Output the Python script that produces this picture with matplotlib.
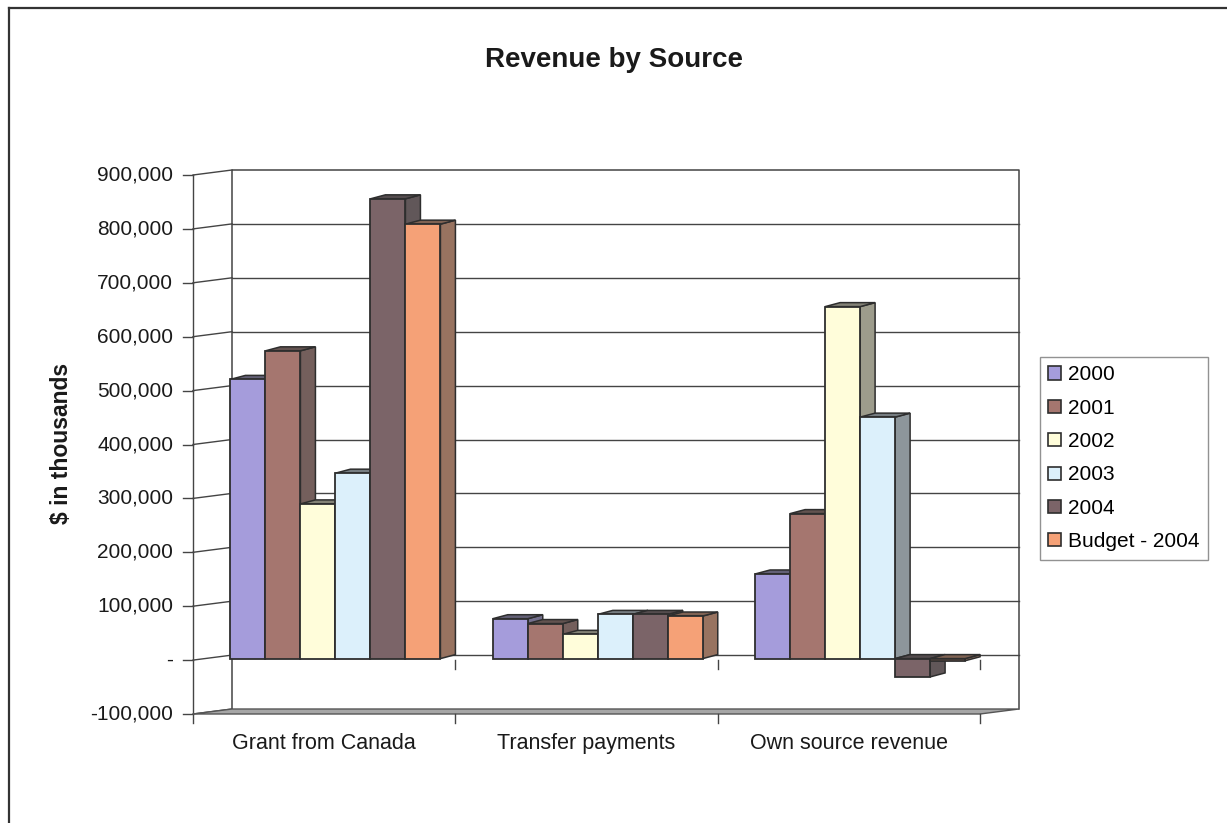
import matplotlib
matplotlib.use("Agg")
import matplotlib.pyplot as plt
from matplotlib.patches import Polygon, Patch
from matplotlib.lines import Line2D
from matplotlib.colors import to_rgb

plt.rcParams['font.family'] = ['Liberation Sans', 'DejaVu Sans']

# ---- data -------------------------------------------------------------
categories = ["Grant from Canada", "Transfer payments", "Own source revenue"]
series_names = ["2000", "2001", "2002", "2003", "2004", "Budget - 2004"]
rev_2000 = [518000, 74000, 157000]
rev_2001 = [571000, 65000, 269000]
rev_2002 = [287000, 45000, 653000]
rev_2003 = [344000, 82000, 448000]
rev_2004 = [853000, 82000, -34000]
rev_budget_2004 = [806000, 79000, -4000]
series_values = [rev_2000, rev_2001, rev_2002, rev_2003, rev_2004, rev_budget_2004]

series_colors = ["#A59CDB", "#A5766F", "#FFFDDA", "#DCF0FB", "#7B6468", "#F5A177"]

y_ticks = [-100000, 0, 100000, 200000, 300000, 400000, 500000,
           600000, 700000, 800000, 900000]
y_tick_labels = ["-100,000", "-", "100,000", "200,000", "300,000", "400,000",
                 "500,000", "600,000", "700,000", "800,000", "900,000"]

# ---- figure / back wall -------------------------------------------------
W, H = 1227, 823
fig = plt.figure(figsize=(W / 100, H / 100), dpi=100)
fig.patch.set_facecolor("white")

L, R, T, B = 232, 1019, 170, 709          # back wall box (pixels)
ax = fig.add_axes([L / W, 1 - B / H, (R - L) / W, (B - T) / H])
ymin, ymax = y_ticks[0], y_ticks[-1]
ncat = len(categories)
ax.set_xlim(0, ncat)
ax.set_ylim(ymin, ymax)
ax.axis("off")

sx = ncat / (R - L)                 # data units per pixel, horizontal
sy = (ymax - ymin) / (B - T)        # data units per pixel, vertical

line_c = "#444444"
edge_c = "#2e2e2e"

# front plane of the walls is shifted left and down
fdx, fdy = -39 * sx, -5 * sy

# back wall outline and gridlines
ax.plot([0, 0, ncat, ncat], [ymin, ymax, ymax, ymin], color=line_c, lw=1.1,
        clip_on=False, zorder=1)
for v in y_ticks[1:-1]:
    ax.plot([0, ncat], [v, v], color=line_c, lw=1.0, clip_on=False, zorder=1)

# side wall: slanted gridlines, front edge, tick marks and labels
for v, lab in zip(y_ticks, y_tick_labels):
    ax.plot([fdx, 0], [v + fdy, v], color=line_c, lw=1.0, clip_on=False, zorder=1)
    ax.plot([fdx - 10 * sx, fdx], [v + fdy, v + fdy], color=line_c, lw=1.0,
            clip_on=False, zorder=1)
    ax.text(fdx - 20 * sx, v + fdy, lab, ha="right", va="center", fontsize=15,
            color="#1a1a1a")
ax.plot([fdx, fdx], [ymax + fdy, ymin + fdy - 9 * sy], color=line_c, lw=1.0,
        clip_on=False, zorder=1)

# floor slab
floor = Polygon([(0, ymin), (ncat, ymin), (ncat + fdx, ymin + fdy),
                 (fdx, ymin + fdy)], closed=True, facecolor="#a6a6a6",
                edgecolor="#555555", lw=1.0, clip_on=False, zorder=2)
ax.add_patch(floor)

# category ticks at zero level and at the floor edge
for i in range(1, ncat + 1):
    ax.plot([i + fdx, i + fdx], [fdy, fdy - 9 * sy], color=line_c, lw=1.0,
            clip_on=False, zorder=1)
    ax.plot([i + fdx, i + fdx], [ymin + fdy, ymin + fdy - 9 * sy], color=line_c,
            lw=1.0, clip_on=False, zorder=2)

for i, cat in enumerate(categories):
    ax.text(i + 0.5 + fdx, ymin + fdy - 19 * sy, cat, ha="center", va="top",
            fontsize=15.5, color="#1a1a1a")

# ---- 3-D columns ----------------------------------------------------------
bar_w = 35 * sx
bar_x0 = -0.006
bar_dy = -3.5 * sy               # column front faces sit slightly in front
ddx, ddy = 15 * sx, 4 * sy       # column depth


def shade(c, k, g):
    r = to_rgb(c)
    return tuple(k * ch + (1 - k) * g for ch in r)


z = 3
for i in range(ncat):
    for j, (vals, col) in enumerate(zip(series_values, series_colors)):
        v = vals[i]
        x0 = i + bar_x0 + j * bar_w
        lo = bar_dy + min(v, 0)
        hi = bar_dy + max(v, 0)
        side = Polygon([(x0 + bar_w, lo), (x0 + bar_w + ddx, lo + ddy),
                        (x0 + bar_w + ddx, hi + ddy), (x0 + bar_w, hi)],
                       closed=True, facecolor=shade(col, 0.45, 0.30),
                       edgecolor=edge_c, lw=1.1, clip_on=False, zorder=z)
        top = Polygon([(x0, hi), (x0 + bar_w, hi), (x0 + bar_w + ddx, hi + ddy),
                       (x0 + ddx, hi + ddy)], closed=True,
                      facecolor=shade(col, 0.35, 0.25), edgecolor=edge_c,
                      lw=1.1, clip_on=False, zorder=z)
        ax.add_patch(side)
        ax.add_patch(top)
        ax.bar(x0, v, width=bar_w, bottom=bar_dy, align="edge", color=col,
               edgecolor=edge_c, linewidth=1.3, clip_on=False, zorder=z + 0.5)
        z += 1

# ---- titles, legend, border ---------------------------------------------
fig.text(614 / W, 1 - 60 / H, "Revenue by Source", ha="center", va="center",
         fontsize=20, fontweight="bold", color="#1a1a1a")
fig.text(62 / W, 1 - 443 / H, r"\$ in thousands", ha="center", va="center",
         rotation=90, fontsize=16.5, fontweight="bold", color="#1a1a1a")

handles = [Patch(facecolor=c, edgecolor=edge_c, linewidth=1.2)
           for c in series_colors]
leg = fig.legend(handles, series_names, loc="upper left",
                 bbox_to_anchor=(1040 / W, 1 - 357 / H), frameon=True,
                 fancybox=False, edgecolor="#777777", fontsize=15,
                 handlelength=0.6, handleheight=0.6, handletextpad=0.35,
                 labelspacing=0.69, borderpad=0.4, borderaxespad=0)
leg.get_frame().set_linewidth(1.0)

fig.add_artist(Line2D([9 / W, 9 / W], [0, 1 - 8 / H], color="#333333", lw=1.6,
                      transform=fig.transFigure))
fig.add_artist(Line2D([9 / W, 1], [1 - 8 / H, 1 - 8 / H], color="#333333",
                      lw=1.6, transform=fig.transFigure))

fig.savefig("out.png", dpi=100, facecolor="white")
